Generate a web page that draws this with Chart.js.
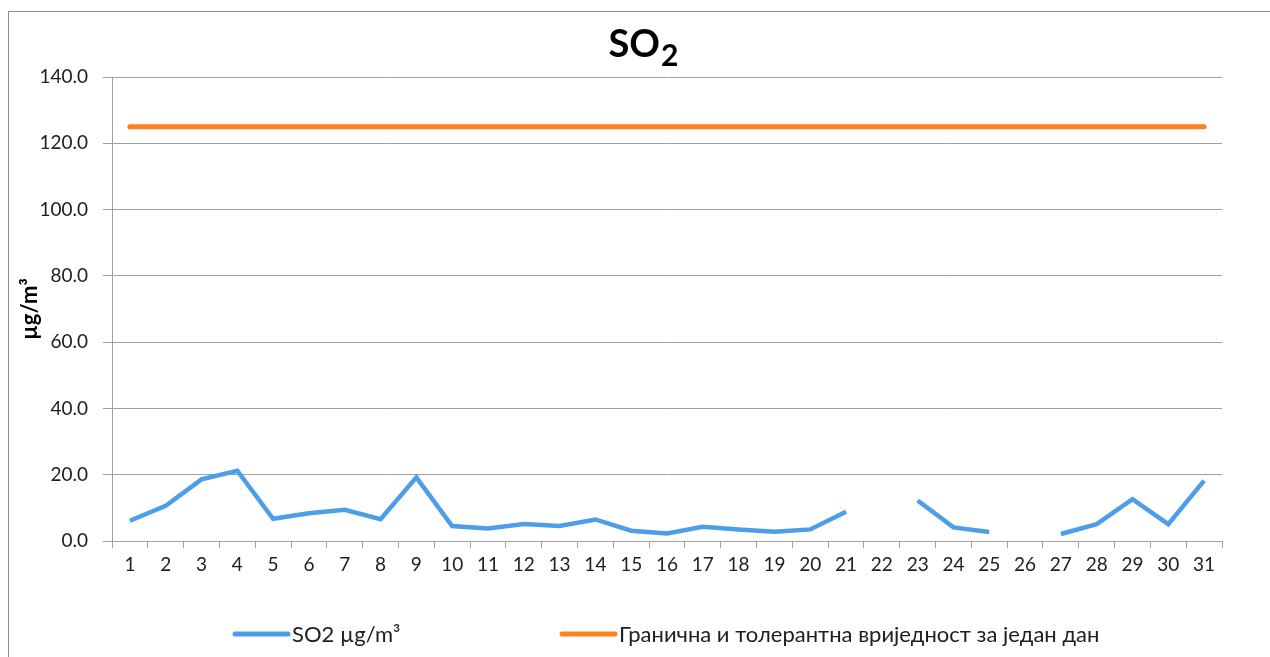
<!DOCTYPE html>
<html>
<head>
<meta charset="utf-8">
<script src="https://cdn.jsdelivr.net/npm/chart.js@4/dist/chart.umd.min.js"></script>
<style>
    html, body { margin: 0; padding: 0; background: #fff; overflow: hidden; }
    #wrap { position: relative; width: 1270px; height: 657px; }
    #frame { position: absolute; left: 8px; top: 11px; width: 1300px; height: 700px; border: 1px solid #8c8c8c; }
    #chart { position: absolute; left: 0; top: 0; }
</style>
</head>
<body>
<div id="wrap">
    <div id="frame"></div>
    <canvas id="chart" width="1270" height="657"></canvas>
</div>
<script>
// days of the month
var days = ['1', '2', '3', '4', '5', '6', '7', '8', '9', '10', '11', '12', '13', '14', '15', '16',
            '17', '18', '19', '20', '21', '22', '23', '24', '25', '26', '27', '28', '29', '30', '31'];

// daily SO2 values, null = no measurement
var so2Values = [6.1, 10.6, 18.6, 21.2, 6.7, 8.4, 9.4, 6.6, 19.2, 4.5, 3.8, 5.1, 4.5, 6.5, 3.1, 2.3,
                 4.3, 3.5, 2.8, 3.5, 8.8, null, 12.2, 4.1, 2.7, null, 2.1, 5.1, 12.6, 5.1, 18.2];

// limit value for one day
var limitValues = [125, 125, 125, 125, 125, 125, 125, 125, 125, 125, 125, 125, 125, 125, 125, 125,
                   125, 125, 125, 125, 125, 125, 125, 125, 125, 125, 125, 125, 125, 125, 125];

var seriesNames = ['SO2 µg/m³', 'Гранична и толерантна вриједност за један дан'];
var yTicks = { min: 0, max: 140, step: 20 };

var gridColor = '#a0a0a0';
var textColor = '#202020';

// title with subscript 2
var titlePlugin = {
    id: 'so2Title',
    afterDraw: function(chart) {
        var ctx = chart.ctx;
        ctx.save();
        ctx.fillStyle = '#000';
        ctx.textBaseline = 'alphabetic';
        ctx.font = 'bold 38px Lato';
        var w1 = ctx.measureText('SO').width;
        ctx.font = 'bold 30px Lato';
        var w2 = ctx.measureText('2').width;
        var x0 = 643 - (w1 + w2) / 2;
        ctx.font = 'bold 38px Lato';
        ctx.fillText('SO', x0, 57);
        ctx.font = 'bold 30px Lato';
        ctx.fillText('2', x0 + w1 + 1, 66);
        ctx.restore();
    }
};

// legend spread out like the original
var legendX = [233, 560];
var legendPlugin = {
    id: 'wideLegend',
    afterDraw: function(chart) {
        var ctx = chart.ctx;
        ctx.save();
        ctx.font = '22px Lato, Roboto';
        ctx.textBaseline = 'middle';
        chart.data.datasets.forEach(function(ds, i) {
            var x = legendX[i], y = 634;
            ctx.strokeStyle = ds.borderColor;
            ctx.lineWidth = 5;
            ctx.lineCap = 'round';
            ctx.beginPath();
            ctx.moveTo(x + 2, y);
            ctx.lineTo(x + 55, y);
            ctx.stroke();
            ctx.fillStyle = textColor;
            ctx.fillText(ds.label, x + 59, y + 1);
        });
        ctx.restore();
    }
};

new Chart(document.getElementById('chart'), {
    type: 'line',
    data: {
        labels: days,
        datasets: [
            {
                label: seriesNames[0],
                data: so2Values,
                borderColor: '#4c9ee8',
                backgroundColor: '#4c9ee8',
                borderWidth: 4.5,
                pointRadius: 0,
                tension: 0,
                spanGaps: false,
                fill: false
            },
            {
                label: seriesNames[1],
                data: limitValues,
                borderColor: '#ff801f',
                backgroundColor: '#ff801f',
                borderWidth: 5,
                borderCapStyle: 'round',
                pointRadius: 0,
                tension: 0,
                fill: false
            }
        ]
    },
    options: {
        responsive: false,
        animation: false,
        layout: { padding: { top: 77, right: 48, bottom: 82, left: 0 } },
        plugins: {
            legend: { display: false },
            title: { display: false },
            tooltip: { enabled: false }
        },
        scales: {
            x: {
                type: 'category',
                offset: true,
                grid: { offset: true, drawOnChartArea: false, drawTicks: true, tickLength: 7, color: gridColor },
                border: { color: gridColor },
                ticks: { color: textColor, font: { family: 'Lato', size: 19 }, padding: 5, maxRotation: 0, autoSkip: false },
                afterFit: function(scale) { scale.height = 34; }
            },
            y: {
                min: yTicks.min,
                max: yTicks.max,
                grid: { color: gridColor, tickLength: 9 },
                border: { color: gridColor },
                ticks: {
                    stepSize: yTicks.step,
                    color: textColor,
                    font: { family: 'Lato', size: 19 },
                    padding: 15,
                    callback: function(v) { return v.toFixed(1); }
                },
                title: {
                    display: true,
                    text: 'µg/m³',
                    color: '#000',
                    font: { family: 'Lato', size: 22, weight: 'bold' },
                    padding: { top: 17, bottom: 0 }
                },
                afterFit: function(scale) { scale.width = 112; }
            }
        }
    },
    plugins: [titlePlugin, legendPlugin]
});
</script>
</body>
</html>
